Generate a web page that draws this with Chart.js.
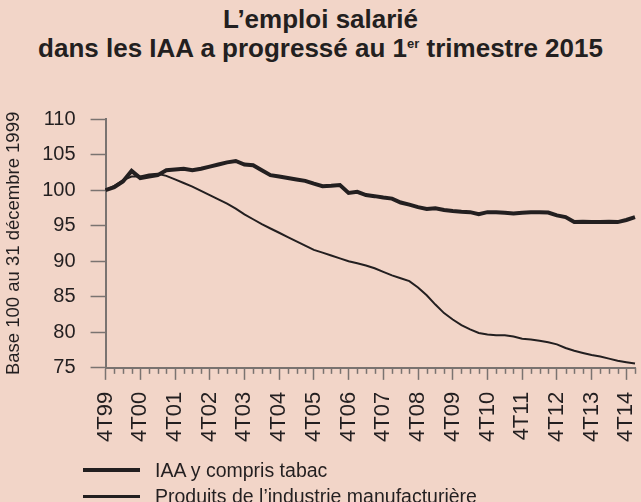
<!DOCTYPE html>
<html lang="fr">
<head>
  <meta charset="UTF-8">
  <title>L'emploi salarié dans les IAA</title>
  <style>
    body {
      margin: 0;
      padding: 0;
      background-color: #f2d5c8;
      font-family: 'Liberation Sans', Arial, sans-serif;
      color: #231f20;
    }
    .page {
      position: relative;
      width: 641px;
      height: 502px;
      overflow: hidden;
    }
    .title {
      position: absolute;
      top: 5px;
      left: 0;
      width: 641px;
      text-align: center;
      font-weight: bold;
      font-size: 26px;
      line-height: 29px;
    }
    .title sup {
      font-size: 13px;
      vertical-align: 9px;
      line-height: 0;
    }
    #chart {
      position: absolute;
      top: 0;
      left: 0;
    }
    .legend {
      position: absolute;
      left: 83px;
      top: 457px;
      font-size: 19.5px;
    }
    .legend-row {
      display: flex;
      align-items: center;
      height: 26px;
    }
    .legend-line {
      width: 57px;
      background: #231f20;
      margin-right: 15px;
    }
  </style>
  <script src="https://cdn.jsdelivr.net/npm/chart.js"></script>
</head>
<body>
  <div class="page">
    <div class="title">L’emploi salarié<br>dans les IAA a progressé au 1<sup>er</sup> trimestre 2015</div>
    <canvas id="chart" width="641" height="502"></canvas>
    <div class="legend">
      <div class="legend-row"><span class="legend-line" style="height:4px"></span>IAA y compris tabac</div>
      <div class="legend-row"><span class="legend-line" style="height:3px"></span>Produits de l’industrie manufacturière</div>
    </div>
  </div>

  <script>
    // quarters, 4T99 -> 1T15
    const quarters = [
      '4T99',
      '1T00', '2T00', '3T00', '4T00',
      '1T01', '2T01', '3T01', '4T01',
      '1T02', '2T02', '3T02', '4T02',
      '1T03', '2T03', '3T03', '4T03',
      '1T04', '2T04', '3T04', '4T04',
      '1T05', '2T05', '3T05', '4T05',
      '1T06', '2T06', '3T06', '4T06',
      '1T07', '2T07', '3T07', '4T07',
      '1T08', '2T08', '3T08', '4T08',
      '1T09', '2T09', '3T09', '4T09',
      '1T10', '2T10', '3T10', '4T10',
      '1T11', '2T11', '3T11', '4T11',
      '1T12', '2T12', '3T12', '4T12',
      '1T13', '2T13', '3T13', '4T13',
      '1T14', '2T14', '3T14', '4T14',
      '1T15'
    ];

    // base 100 at 31/12/1999
    const iaa = [
      100.0,
      100.4, 101.2, 102.7, 101.7,
      101.9, 102.1, 102.8, 102.9,
      103.0, 102.8, 103.0, 103.3,
      103.6, 103.9, 104.1, 103.6,
      103.5, 102.8, 102.1, 101.9,
      101.7, 101.5, 101.3, 100.9,
      100.55, 100.6, 100.7, 99.6,
      99.75, 99.3, 99.15, 98.95,
      98.8, 98.25, 97.95, 97.6,
      97.35, 97.45, 97.2, 97.05,
      96.95, 96.9, 96.6, 96.9,
      96.9, 96.8, 96.7, 96.8,
      96.9, 96.9, 96.85, 96.45,
      96.2, 95.5, 95.55, 95.5,
      95.5, 95.55, 95.5, 95.8,
      96.2
    ];

    const manuf = [
      100.0,
      100.6, 101.4, 101.9, 101.9,
      102.2, 102.3, 102.0, 101.5,
      101.0, 100.5, 99.9, 99.3,
      98.7, 98.1, 97.4, 96.6,
      95.9, 95.2, 94.6, 94.0,
      93.4, 92.8, 92.2, 91.6,
      91.2, 90.8, 90.4, 90.0,
      89.7, 89.4, 89.0, 88.5,
      88.0, 87.6, 87.2, 86.3,
      85.2, 83.9, 82.7, 81.8,
      81.0, 80.4, 79.9, 79.7,
      79.6, 79.6, 79.4, 79.1,
      79.0, 78.8, 78.6, 78.3,
      77.8, 77.4, 77.1, 76.8,
      76.6, 76.3, 76.0, 75.8,
      75.6
    ];

    const yMin = 75;
    const yMax = 110;
    const yStep = 5;

    const ink = '#231f20';
    const axisGrey = '#7a7370';

    // short ticks for the quarters between two labelled years
    const minorTicks = {
      id: 'minorTicks',
      afterDraw(chart) {
        const xs = chart.scales.x;
        const ctx = chart.ctx;
        ctx.save();
        ctx.strokeStyle = axisGrey;
        ctx.lineWidth = 1.5;
        quarters.forEach((q, i) => {
          if (i % 4 === 0) return;
          const px = Math.round(xs.getPixelForValue(i)) + 0.5;
          ctx.beginPath();
          ctx.moveTo(px, xs.top);
          ctx.lineTo(px, xs.top + 6);
          ctx.stroke();
        });
        ctx.restore();
      }
    };

    new Chart(document.getElementById('chart'), {
      type: 'line',
      data: {
        labels: quarters,
        datasets: [
          {
            label: 'IAA y compris tabac',
            data: iaa,
            borderColor: ink,
            borderWidth: 4,
            pointRadius: 0,
            tension: 0
          },
          {
            label: 'Produits de l’industrie manufacturière',
            data: manuf,
            borderColor: ink,
            borderWidth: 2,
            pointRadius: 0,
            tension: 0
          }
        ]
      },
      options: {
        responsive: false,
        animation: false,
        layout: {
          padding: { top: 119, bottom: 48, left: 3, right: 6 }
        },
        plugins: {
          legend: { display: false },
          tooltip: { enabled: false }
        },
        scales: {
          x: {
            offset: false,
            // last label is empty, no need to keep room for it
            afterFit: (s) => { s.paddingRight = 0; },
            grid: {
              drawOnChartArea: false,
              tickLength: 12,
              tickColor: (c) => (c.index % 4 === 0 ? axisGrey : 'rgba(0,0,0,0)'),
              tickWidth: 1.5
            },
            border: { color: axisGrey, width: 2 },
            ticks: {
              autoSkip: false,
              minRotation: 90,
              maxRotation: 90,
              padding: 12,
              color: ink,
              font: { family: 'Liberation Sans', size: 22 },
              callback: (v, i) => (i % 4 === 0 ? quarters[i] : '')
            }
          },
          y: {
            min: yMin,
            max: yMax,
            grid: {
              drawOnChartArea: false,
              tickLength: 15,
              tickColor: axisGrey,
              tickWidth: 1.5
            },
            border: { color: axisGrey, width: 2 },
            ticks: {
              stepSize: yStep,
              padding: 15,
              color: ink,
              font: { family: 'Liberation Sans', size: 20 }
            },
            title: {
              display: true,
              text: 'Base 100 au 31 décembre 1999',
              color: ink,
              font: { family: 'Liberation Sans', size: 18.5 },
              padding: { top: 0, bottom: 2 }
            }
          }
        }
      },
      plugins: [minorTicks]
    });
  </script>
</body>
</html>
